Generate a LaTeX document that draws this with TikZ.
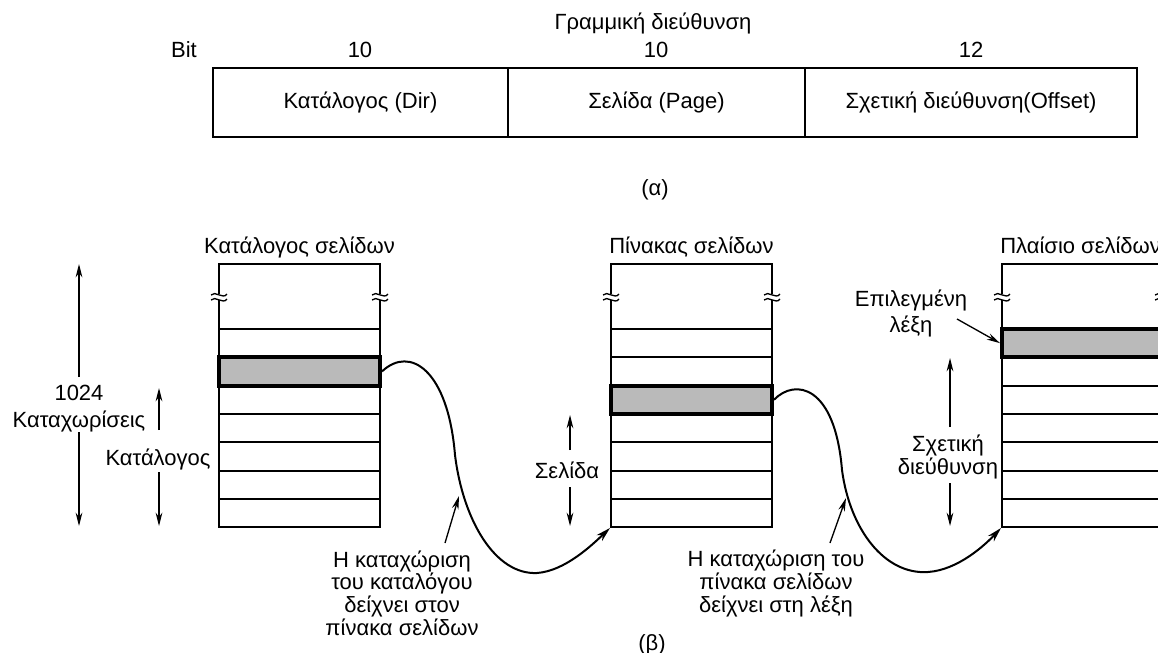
\documentclass[tikz,border=0pt]{standalone}
\usepackage{fontspec}
\setmainfont{Liberation Sans}
\usetikzlibrary{arrows.meta,fit}
\newcommand\brkmark[2]{%
  \fill[white] ({#1-3},{#2-3}) rectangle ({#1+3},{#2+3});
  \draw[line width=1pt] ({#1-8},{#2-2}) .. controls ({#1-4},{#2-7}) and ({#1+4},{#2+3}) .. ({#1+8},{#2-3});
  \draw[line width=1pt] ({#1-8},{#2+3}) .. controls ({#1-4},{#2-2}) and ({#1+4},{#2+8}) .. ({#1+8},{#2+2});
}
\begin{document}
\begin{tikzpicture}[x=0.75pt,y=-0.75pt,
  every node/.style={inner sep=0pt,font=\fontsize{16.5}{17}\selectfont},
  lbl/.style={anchor=base,align=center},
  cell/.style={draw,line width=1.5pt,minimum height=51.75pt},
  tbl/.style={draw,line width=1.5pt,inner sep=0pt},
  hl/.style={draw,line width=3pt,fill=black!27,inner sep=0pt},
  row/.style={line width=1.5pt},
  dim/.style={line width=0.9pt,-{Stealth[length=10pt,width=5pt]}},
  link/.style={line width=1.5pt,-{Stealth[length=11pt,width=6pt]}},
  ptr/.style={line width=1pt,-{Stealth[length=10pt,width=5pt]}}]
\useasboundingbox (0,0) rectangle (1158,653);
\fill[white] (0,0) rectangle (1158,653);
\clip (0,0) rectangle (1158,653);

% (a) linear address
\node[lbl] (title) at (653,29) {Γραμμική διεύθυνση};
\node[lbl] (bit) at (184,57) {Bit};
\node[lbl] (n1) at (360,57) {10};
\node[lbl] (n2) at (656,57) {10};
\node[lbl] (n3) at (971,57) {12};
\node[cell,minimum width=221.25pt] (c1) at (360.5,102.5) {Κατάλογος (Dir)};
\node[cell,minimum width=222.75pt] (c2) at (656.5,102.5) {Σελίδα (Page)};
\node[cell,minimum width=249pt] (c3) at (971,102.5) {Σχετική διεύθυνση(Offset)};
\node (capa) at (655,190) {(α)};

% tables
\node[tbl,fit={(219,264) (380,527)}] (t1) {};
\node[tbl,fit={(611,264) (772,527)}] (t2) {};
\node[tbl,fit={(1002,264) (1163,527)}] (t3) {};
\foreach \k in {0,...,6}{
  \draw[row] (219,{329+28.3*\k}) -- (380,{329+28.3*\k});
  \draw[row] (611,{329+28.3*\k}) -- (772,{329+28.3*\k});
  \draw[row] (1002,{329+28.3*\k}) -- (1163,{329+28.3*\k});
}
\node[hl,fit={(219,357.3) (380,385.6)}] (h1) {};
\node[hl,fit={(611,385.6) (772,413.9)}] (h2) {};
\node[hl,fit={(1002,329) (1163,357.3)}] (h3) {};
\brkmark{219}{297}\brkmark{380}{297}
\brkmark{611}{297}\brkmark{772}{297}
\brkmark{1002}{297}\brkmark{1163}{297}

\node[lbl] (tt1) at (299.5,253) {Κατάλογος σελίδων};
\node[lbl] (tt2) at (691.5,253) {Πίνακας σελίδων};
\node[anchor=base west] (tt3) at (1000,253) {Πλαίσιο σελίδων};

% dimension arrows
\coordinate (a1t) at (79,264); \coordinate (a1u) at (79,377);
\coordinate (a1l) at (79,432); \coordinate (a1b) at (79,526);
\draw[dim] (a1u) -- (a1t);
\draw[dim] (a1l) -- (a1b);
\node[lbl] (k1) at (79,400) {1024};
\node[lbl] (k2) at (79,427) {Καταχωρίσεις};

\coordinate (a2t) at (159,388); \coordinate (a2u) at (159,430);
\coordinate (a2l) at (159,472); \coordinate (a2b) at (159,526);
\draw[dim] (a2u) -- (a2t);
\draw[dim] (a2l) -- (a2b);
\node[lbl] (k3) at (158,465) {Κατάλογος};

\coordinate (a3t) at (570,415); \coordinate (a3u) at (570,450);
\coordinate (a3l) at (570,487); \coordinate (a3b) at (570,526);
\draw[dim] (a3u) -- (a3t);
\draw[dim] (a3l) -- (a3b);
\node[lbl] (k4) at (567,478) {Σελίδα};

\coordinate (a4t) at (950,358); \coordinate (a4u) at (950,427);
\coordinate (a4l) at (950,483); \coordinate (a4b) at (950,526);
\draw[dim] (a4u) -- (a4t);
\draw[dim] (a4l) -- (a4b);
\node[lbl] (k5) at (948,451) {Σχετική};
\node[lbl] (k6) at (948,474) {διεύθυνση};

% links
\draw[link] (h1.east) .. controls (410,345) and (448,370) .. (455,455)
  .. controls (463,520) and (495,575) .. (537,573)
  .. controls (565,571) and (592,545) .. (t2.south west);
\draw[link] (h2.east) .. controls (795,378) and (835,385) .. (842,470)
  .. controls (850,530) and (885,575) .. (928,572)
  .. controls (958,570) and (985,545) .. (t3.south west);

% labels with pointers
\node[lbl] (lab1) at (402,635) {Η καταχώριση\\του καταλόγου\\δείχνει στον\\πίνακα σελίδων};
\node[lbl] (lab2) at (776,612) {Η καταχώριση του\\πίνακα σελίδων\\δείχνει στη λέξη};
\coordinate (p1s) at (445,543); \coordinate (p1e) at (459,496);
\coordinate (p2s) at (830,543); \coordinate (p2e) at (846,498);
\draw[ptr] (p1s) -- (p1e);
\draw[ptr] (p2s) -- (p2e);
\node[lbl] (sel) at (911,332) {Επιλεγμένη\\[2pt]λέξη};
\coordinate (p3s) at (957,319);
\draw[ptr] (p3s) -- (h3.west);

\node[lbl] (capb) at (652,650) {(β)};
\end{tikzpicture}
\end{document}
